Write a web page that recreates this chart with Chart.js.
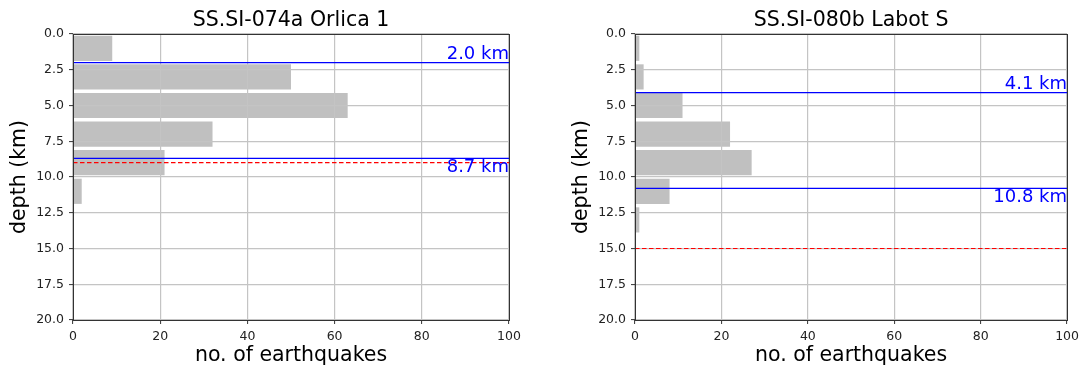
<!DOCTYPE html>
<html>
<head>
<meta charset="utf-8">
<script src="https://cdn.jsdelivr.net/npm/chart.js@4.4.0/dist/chart.umd.min.js"></script>
<style>
body{margin:0;background:#fff;}
.panel{position:absolute;top:0;}
</style>
</head>
<body>
<div class="panel" style="left:0px"><canvas id="orlica" width="540" height="369"></canvas></div>
<div class="panel" style="left:540px"><canvas id="labot" width="544" height="369"></canvas></div>
<script>
// depth bins are 2 km wide, values are bin centres
const depthBins = [1, 3, 5, 7, 9, 11, 13];
const orlicaCounts = [9, 50, 63, 32, 21, 2];
const labotCounts = [1, 2, 11, 22, 27, 8, 1];

// blue lines = seismogenic bounds, red dashed = reference depth
const orlicaBounds = [2.0, 8.7];
const labotBounds = [4.1, 10.8];
const orlicaRef = 9.0;
const labotRef = 15.0;

const depthTicks = [0, 2.5, 5, 7.5, 10, 12.5, 15, 17.5, 20];
const countTicks = [0, 20, 40, 60, 80, 100];

Chart.defaults.font.family = 'DejaVu Sans';
Chart.defaults.color = '#000';

// draws the frame, the depth lines and their labels
const markers = {
  id: 'markers',
  afterDraw(chart, args, opts) {
    const ctx = chart.ctx;
    const a = chart.chartArea;
    const y = chart.scales.y;
    ctx.save();
    // red dashed line
    ctx.strokeStyle = '#ff0000';
    ctx.lineWidth = 1.2;
    ctx.setLineDash([4.5, 2.5]);
    let py = y.getPixelForValue(opts.ref);
    ctx.beginPath(); ctx.moveTo(a.left, py); ctx.lineTo(a.right, py); ctx.stroke();
    ctx.setLineDash([]);
    // blue bounds
    ctx.strokeStyle = '#0000ff';
    ctx.fillStyle = '#0000ff';
    ctx.lineWidth = 1.3;
    ctx.font = '18px "DejaVu Sans"';
    ctx.textAlign = 'right';
    ctx.textBaseline = 'alphabetic';
    opts.bounds.forEach((d, i) => {
      py = y.getPixelForValue(d);
      ctx.beginPath(); ctx.moveTo(a.left, py); ctx.lineTo(a.right, py); ctx.stroke();
      let ty = i == 0 ? py - 4 : py + 14;
      ctx.fillText(d.toFixed(1) + ' km', a.right, ty);
    });
    // axes frame
    ctx.strokeStyle = '#333';
    ctx.lineWidth = 1;
    ctx.strokeRect(Math.round(a.left) + 0.5, Math.round(a.top) + 0.5, Math.round(a.right - a.left), Math.round(a.bottom - a.top));
    ctx.restore();
  }
};

function makeChart(id, name, counts, bounds, ref, yWidth, padRight, yTitlePad) {
  return new Chart(document.getElementById(id), {
    type: 'bar',
    data: {
      datasets: [{
        data: counts.map((c, i) => ({x: c, y: depthBins[i]})),
        backgroundColor: '#c0c0c0',
        borderWidth: 0,
        barPercentage: 0.88,
        categoryPercentage: 1
      }]
    },
    options: {
      indexAxis: 'y',
      responsive: false,
      animation: false,
      layout: {padding: {left: 0, right: padRight, top: 0, bottom: 0}},
      plugins: {
        legend: {display: false},
        tooltip: {enabled: false},
        title: {
          display: true, text: name, fullSize: false,
          font: {size: 20.5, weight: 'normal'},
          padding: {top: 8, bottom: 1.4}
        },
        markers: {bounds: bounds, ref: ref}
      },
      scales: {
        x: {
          type: 'linear', min: 0, max: 100, offset: false,
          afterBuildTicks: s => { s.ticks = countTicks.map(v => ({value: v})); },
          afterFit: s => { s.height = 49; },
          grid: {color: '#c4c4c4', lineWidth: 1.2, z: 1, tickColor: '#333', tickWidth: 1, tickLength: 4, offset: false},
          border: {display: false},
          ticks: {font: {size: 12.5}, color: '#222', padding: 5, maxRotation: 0},
          title: {display: true, text: 'no. of earthquakes', font: {size: 20.5}, padding: {top: 0, bottom: 1}}
        },
        y: {
          type: 'linear', min: 0, max: 20, reverse: true, offset: false,
          afterBuildTicks: s => { s.ticks = depthTicks.map(v => ({value: v})); },
          afterFit: s => { s.width = yWidth; },
          grid: {color: '#c4c4c4', lineWidth: 1.2, z: 1, tickColor: '#333', tickWidth: 1, tickLength: 4, offset: false},
          border: {display: false},
          ticks: {font: {size: 12.5}, color: '#222', padding: 5, callback: v => v.toFixed(1)},
          title: {display: true, text: 'depth (km)', font: {size: 20.5}, padding: {top: yTitlePad, bottom: 0}}
        }
      }
    },
    plugins: [markers]
  });
}

makeChart('orlica', 'SS.SI-074a Orlica 1', orlicaCounts, orlicaBounds, orlicaRef, 73, 31, 7);
makeChart('labot', 'SS.SI-080b Labot S', labotCounts, labotBounds, labotRef, 95, 14, 29);
</script>
</body>
</html>
